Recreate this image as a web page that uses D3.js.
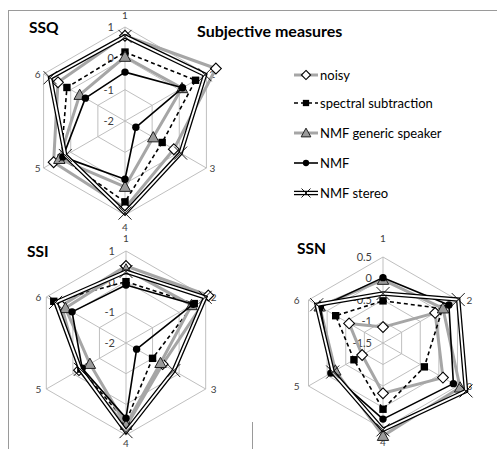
<!DOCTYPE html>
<html>
<head>
<meta charset="utf-8">
<script src="https://cdn.jsdelivr.net/npm/d3@7"></script>
<style>
body { margin: 0; background: #fff; }
svg { display: block; font-family: Lato, "Noto Sans", sans-serif; }
</style>
</head>
<body>
<svg id="chart" width="497" height="449"></svg>
<script>
// categories (spokes) and series names
const categories = ['1', '2', '3', '4', '5', '6']
const seriesNames = ['noisy', 'spectral subtraction', 'NMF generic speaker', 'NMF', 'NMF stereo']

// values, one row per series, one column per category
const ssqValues = [
	[0.72, 1.35, -0.2, 0.78, 0.63, 0.47],
	[0.2, 0.6, -0.63, 0.58, 0.35, 0.14],
	[0.05, 0.1, -0.96, 0.1, 0.42, -0.33],
	[-0.44, 0.12, -1.6, -0.14, 0.29, -0.54],
	[0.7, 0.95, 0.05, 0.94, 0.2, 0.76]
]
const ssiValues = [
	[0.51, 1.1, -0.62, 0.73, -0.23, 0.43],
	[0.0, 0.57, -1.0, 0.56, -0.3, 0.72],
	[0.4, 0.47, -0.7, 0.67, -0.64, 0.28],
	[-0.11, 0.53, -1.6, 0.45, -0.35, 0.03],
	[0.33, 0.98, -0.2, 0.89, -0.28, 0.65]
]
const ssnValues = [
	[-1.13, -0.1, 0.11, -0.33, -0.94, -0.59],
	[-0.52, 0.1, -0.39, 0.04, -0.72, -0.23],
	[-0.03, 0.11, 0.57, 0.66, -0.22, 0.2],
	[0.02, 0.27, 0.39, 0.27, -0.1, 0.18],
	[-0.35, 0.52, 0.73, 0.52, -0.15, 0.28]
]

// ring tick labels
const ssqTicks = [-2, -1, 0, 1]
const ssiTicks = [-2, -1, 0, 1]
const ssnTicks = [-1.5, -1, -0.5, 0, 0.5]

const grey = '#a6a6a6'
const gridColor = '#b8b8b8'

// how each series is drawn
const styles = [
	{ stroke: grey, width: 3, dash: null, marker: 'diamond' },
	{ stroke: '#000', width: 1.6, dash: '4,3', marker: 'square' },
	{ stroke: grey, width: 3, dash: null, marker: 'triangle' },
	{ stroke: '#000', width: 1.6, dash: null, marker: 'circle' },
	{ stroke: 'double', width: 4.5, dash: null, marker: 'x' }
]

const svg = d3.select('#chart')

// frame lines
svg.append('line').attr('x1', 8).attr('x2', 497).attr('y1', 10.5).attr('y2', 10.5)
	.attr('stroke', '#9a9a9a').attr('stroke-width', 1)
svg.append('line').attr('x1', 8.5).attr('x2', 8.5).attr('y1', 10).attr('y2', 449)
	.attr('stroke', '#9a9a9a').attr('stroke-width', 1)
svg.append('line').attr('x1', 252.5).attr('x2', 252.5).attr('y1', 422).attr('y2', 449)
	.attr('stroke', '#9a9a9a').attr('stroke-width', 1)

svg.append('text')
	.attr('x', 197).attr('y', 37)
	.attr('font-size', 16).attr('font-weight', 'bold')
	.text('Subjective measures')

function drawMarker(g, type, x, y, big) {
	const s = big ? 1 : 0.85
	if (type === 'diamond') {
		const h = 5.4 * s
		g.append('path').attr('d', `M${x},${y - h}L${x + h},${y}L${x},${y + h}L${x - h},${y}Z`)
			.attr('fill', '#fff').attr('stroke', '#000').attr('stroke-width', 1.1)
	} else if (type === 'square') {
		const h = 3.7 * s
		g.append('rect').attr('x', x - h).attr('y', y - h).attr('width', 2 * h).attr('height', 2 * h)
			.attr('fill', '#000')
	} else if (type === 'triangle') {
		const h = 5.7 * s
		g.append('path').attr('d', `M${x},${y - h}L${x + h},${y + h * 0.8}L${x - h},${y + h * 0.8}Z`)
			.attr('fill', '#9a9a9a').attr('stroke', '#202020').attr('stroke-width', 1)
	} else if (type === 'circle') {
		g.append('circle').attr('cx', x).attr('cy', y).attr('r', 3.7 * s).attr('fill', '#000')
	} else if (type === 'x') {
		const h = big ? 6.5 : 4.5
		g.append('path').attr('d', `M${x - h},${y - h}L${x + h},${y + h}M${x - h},${y + h}L${x + h},${y - h}`)
			.attr('stroke', '#000').attr('stroke-width', 0.9).attr('fill', 'none')
	}
}

function drawLine(g, st, d) {
	if (st.stroke === 'double') {
		g.append('path').attr('d', d).attr('fill', 'none').attr('stroke', '#000')
			.attr('stroke-width', st.width).attr('stroke-linejoin', 'miter')
		g.append('path').attr('d', d).attr('fill', 'none').attr('stroke', '#fff')
			.attr('stroke-width', st.width - 2.6).attr('stroke-linejoin', 'miter')
	} else {
		g.append('path').attr('d', d).attr('fill', 'none').attr('stroke', st.stroke)
			.attr('stroke-width', st.width).attr('stroke-dasharray', st.dash)
			.attr('stroke-linejoin', 'round')
	}
}

function drawRadar(cfg) {
	const g = svg.append('g').attr('transform', `translate(${cfg.cx},${cfg.cy})`)
	const r = d3.scaleLinear().domain(d3.extent(cfg.ticks)).range([0, cfg.radius])
	const angle = i => i * 2 * Math.PI / categories.length
	const px = (i, v) => Math.sin(angle(i)) * r(v)
	const py = (i, v) => -Math.cos(angle(i)) * r(v)

	// rings
	cfg.ticks.slice(1).forEach(t => {
		const pts = categories.map((c, i) => [px(i, t), py(i, t)])
		g.append('path').attr('d', 'M' + pts.join('L') + 'Z')
			.attr('fill', 'none').attr('stroke', gridColor).attr('stroke-width', 0.9)
	})
	// spokes
	const top = cfg.ticks[cfg.ticks.length - 1]
	categories.forEach((c, i) => {
		g.append('line').attr('x1', 0).attr('y1', 0).attr('x2', px(i, top)).attr('y2', py(i, top))
			.attr('stroke', gridColor).attr('stroke-width', 0.9)
	})
	// ring labels
	cfg.ticks.forEach(t => {
		g.append('text').attr('x', -11).attr('y', -r(t)).attr('dy', '0.35em')
			.attr('text-anchor', 'end').attr('font-size', 11).attr('fill', '#404040')
			.text(t)
	})
	// category labels
	categories.forEach((c, i) => {
		const s = Math.sin(angle(i)), k = Math.cos(angle(i))
		const vx = px(i, top), vy = py(i, top)
		let x = vx, y = vy, anchor = 'middle'
		if (Math.abs(s) < 0.01) {
			y = vy - (k > 0 ? cfg.topPad : -cfg.bottomPad)
		} else {
			x = vx + Math.sign(s) * cfg.sidePad
			anchor = s > 0 ? 'start' : 'end'
		}
		g.append('text').attr('x', x).attr('y', y).attr('dy', '0.35em')
			.attr('text-anchor', anchor).attr('font-size', 10).attr('fill', '#404040')
			.text(c)
	})

	const line = d3.lineRadial()
		.angle((d, i) => angle(i))
		.radius(d => r(d))
		.curve(d3.curveLinearClosed)

	cfg.values.forEach((vals, si) => {
		const st = styles[si]
		const sg = g.append('g')
		drawLine(sg, st, line(vals))
		vals.forEach((v, i) => drawMarker(sg, st.marker, px(i, v), py(i, v), true))
	})

	svg.append('text').attr('x', cfg.titleX).attr('y', cfg.titleY)
		.attr('font-size', 15.5).attr('font-weight', 'bold').text(cfg.title)
}

drawRadar({ cx: 125, cy: 121, radius: 94, ticks: ssqTicks, values: ssqValues,
	title: 'SSQ', titleX: 29, titleY: 33, topPad: 12, bottomPad: 12, sidePad: 3 })
drawRadar({ cx: 126, cy: 343, radius: 92, ticks: ssiTicks, values: ssiValues,
	title: 'SSI', titleX: 27, titleY: 257, topPad: 13, bottomPad: 8, sidePad: 5 })
drawRadar({ cx: 383, cy: 343, radius: 86, ticks: ssnTicks, values: ssnValues,
	title: 'SSN', titleX: 297, titleY: 254, topPad: 19, bottomPad: 13, sidePad: 9 })

// legend
const legendY = [75, 103, 133, 163, 193]
const legend = svg.append('g')
seriesNames.forEach((name, i) => {
	const st = styles[i]
	const y = legendY[i]
	drawLine(legend, st, `M294,${y}L318,${y}`)
	drawMarker(legend, st.marker, 306, y, false)
	legend.append('text').attr('x', 320).attr('y', y).attr('dy', '0.35em')
		.attr('font-size', 13).attr('fill', '#000').text(name)
})
</script>
</body>
</html>
